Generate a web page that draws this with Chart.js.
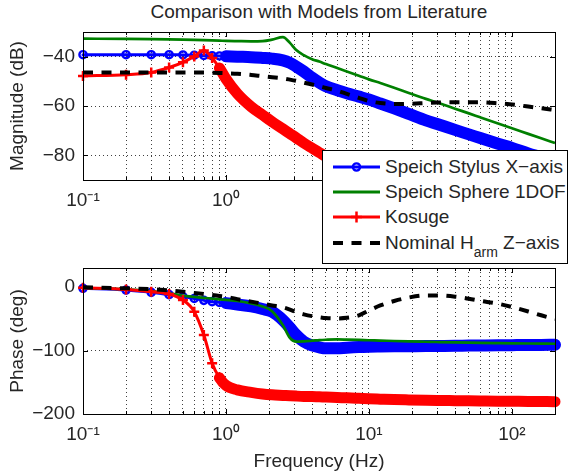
<!DOCTYPE html>
<html>
<head>
<meta charset="utf-8">
<script src="https://cdn.jsdelivr.net/npm/chart.js@4"></script>
<style>
  body { margin: 0; background: #fff; font-family: "Liberation Sans", Arial, sans-serif; color: #262626; }
  #page { position: relative; width: 568px; height: 474px; overflow: hidden; }
  .plot { position: absolute; left: 0; width: 568px; }
  #title { position: absolute; left: 83px; width: 472px; top: 0; line-height: 24px; font-size: 19px; text-align: center; white-space: nowrap; }
  #legend { position: absolute; left: 322px; top: 150px; width: 244px; height: 112px; border: 1px solid #000; background: #fff; }
  .row { position: absolute; left: 0; width: 244px; height: 24px; line-height: 24px; font-size: 19px; white-space: nowrap; }
  .row svg { position: absolute; left: 10px; top: 6px; }
  .row span { position: absolute; left: 62px; top: 0; }
  .row sub { font-size: 14px; vertical-align: -8px; line-height: 0; }
</style>
</head>
<body>
<div id="page">
  <div id="title">Comparison with Models from Literature</div>
  <div class="plot" style="top:0;height:240px"><canvas id="magChart"></canvas></div>
  <div class="plot" style="top:240px;height:234px"><canvas id="phaseChart"></canvas></div>
  <div id="legend">
    <div class="row" style="top:4px">
      <svg width="48" height="12"><line x1="0" y1="6" x2="47" y2="6" stroke="#0000ff" stroke-width="3"/><circle cx="23.5" cy="6" r="3.6" fill="none" stroke="#0000ff" stroke-width="2.4"/></svg>
      <span>Speich Stylus X&#8722;axis</span>
    </div>
    <div class="row" style="top:29px">
      <svg width="48" height="12"><line x1="0" y1="6" x2="47" y2="6" stroke="#008000" stroke-width="3"/></svg>
      <span>Speich Sphere 1DOF</span>
    </div>
    <div class="row" style="top:54px">
      <svg width="48" height="12"><line x1="0" y1="6" x2="47" y2="6" stroke="#ff0000" stroke-width="3"/><line x1="23.5" y1="0.5" x2="23.5" y2="11.5" stroke="#ff0000" stroke-width="2.5"/><line x1="18" y1="6" x2="29" y2="6" stroke="#ff0000" stroke-width="2.5"/></svg>
      <span>Kosuge</span>
    </div>
    <div class="row" style="top:80px">
      <svg width="48" height="12"><line x1="0" y1="6" x2="47" y2="6" stroke="#000" stroke-width="4" stroke-dasharray="10 8.5"/></svg>
      <span>Nominal H<sub>arm</sub> Z&#8722;axis</span>
    </div>
  </div>
</div>
<script>
// frequency grid (Hz) the curves were read at
const FREQ = [0.1, 0.2, 0.3, 0.4, 0.5, 0.6, 0.7, 0.8, 0.9, 1.0, 1.2, 1.5, 1.8, 2.1, 2.5, 2.8, 3.1, 3.5, 4, 4.5,
  5, 6, 7, 8.5, 10, 12, 15, 19, 25, 30, 40, 50, 60, 80, 100, 130, 160, 200];

// magnitude (dB)
const STYLUS_MAG = [-39.2, -39.2, -39.2, -39.2, -39.3, -39.4, -39.5, -39.6, -39.7, -39.8, -40.0, -40.2, -40.5, -40.8,
  -41.5, -42.5, -44.0, -46.0, -48.5, -50.5, -52.0, -53.6, -54.8, -56.2, -57.4, -59.0, -61.0, -63.2, -65.8, -67.3,
  -69.7, -71.5, -73.0, -75.3, -77.0, -79.2, -80.8, -82.6];
const SPHERE_MAG = [-32.7, -32.8, -32.9, -33.0, -33.1, -33.2, -33.3, -33.4, -33.5, -33.6, -33.7, -33.8, -33.7, -33.1,
  -32.1, -34.4, -37.3, -39.4, -41.0, -42.0, -43.0, -44.6, -46.0, -47.7, -49.2, -50.7, -52.6, -54.7, -57.1, -58.6,
  -61.1, -63.0, -64.6, -67.1, -69.0, -71.3, -73.1, -75.0];
const KOSUGE_MAG = [-47.8, -47.3, -46.4, -44.4, -42.3, -39.9, -37.5, -40.5, -44.6, -49.0, -55.0, -60.3, -63.6, -66.4,
  -69.3, -71.2, -72.9, -75.0, -77.1, -78.9, -80.5, -83.5, -86.0, -89.2, -92.0, null, null, null, null, null,
  null, null, null, null, null, null, null, null];
const NOMINAL_MAG = [-46.4, -46.4, -46.4, -46.4, -46.4, -46.4, -46.4, -46.5, -46.6, -46.7, -46.9, -47.4, -47.9, -48.3,
  -48.8, -49.3, -49.8, -50.5, -51.3, -52.0, -52.7, -53.8, -55.1, -56.7, -58.0, -58.8, -59.2, -59.1, -58.8, -58.6,
  -58.5, -58.5, -58.5, -58.9, -59.4, -60.2, -60.9, -61.6];

// phase (deg)
const STYLUS_PHASE = [-2.0, -4.7, -8.4, -12.0, -15.0, -18.0, -21.0, -23.0, -24.3, -25.3, -27.5, -30.5, -34.5, -39.0,
  -52.0, -64.0, -75.6, -86.0, -92.0, -95.0, -96.5, -96.5, -95.5, -94.5, -94.0, -93.7, -93.4, -93.2, -93.0, -92.8,
  -92.5, -92.2, -92.0, -91.7, -91.5, -91.3, -91.2, -91.0];
const SPHERE_PHASE = [-1.5, -3.5, -6.5, -10.0, -13.5, -15.5, -17.0, -18.2, -19.3, -20.2, -22.0, -26.0, -30.5, -38.0,
  -60.0, -80.0, -86.0, -85.5, -84.5, -83.5, -83.0, -82.5, -82.8, -83.3, -83.8, -84.3, -85.0, -85.6, -86.2, -86.6,
  -87.2, -87.6, -87.9, -88.3, -88.6, -88.9, -89.1, -89.3];
const KOSUGE_PHASE = [-1.0, -3.7, -7.3, -11.0, -20.5, -38.8, -75.6, -120.0, -143.0, -155.0, -162.0, -166.0, -168.5,
  -169.8, -170.7, -171.3, -171.8, -172.3, -172.6, -173.0, -173.3, -174.0, -174.5, -175.3, -176.0, -176.6, -177.3,
  -177.8, -178.3, -178.6, -179.0, -179.3, -179.5, -179.8, -180.0, -180.2, -180.4, -180.6];
const NOMINAL_PHASE = [-0.5, -2.0, -3.5, -5.5, -7.5, -9.5, -11.0, -12.5, -14.0, -15.3, -19.0, -23.0, -26.2, -29.0,
  -32.0, -35.5, -39.5, -43.0, -45.8, -47.5, -48.8, -49.4, -48.5, -44.5, -37.0, -29.0, -22.0, -16.5, -13.2, -13.2,
  -15.2, -18.5, -21.7, -26.3, -31.5, -38.5, -44.5, -50.5];

// axes ticks
const X_TICKS = [0.1, 0.2, 0.3, 0.4, 0.5, 0.6, 0.7, 0.8, 0.9, 1, 2, 3, 4, 5, 6, 7, 8, 9,
  10, 20, 30, 40, 50, 60, 70, 80, 90, 100, 200];
const MAG_TICKS = [-80, -60, -40];
const PHASE_TICKS = [-200, -100, 0];

const FONT_FAMILY = "'Liberation Sans', Arial, sans-serif";
const TEXT_COLOR = '#262626';
const SUP = { '-': '\u207B', '0': '\u2070', '1': '\u00B9', '2': '\u00B2', '3': '\u00B3' };

function decadeLabel(v) {
  const e = Math.log10(v);
  if (Math.abs(e - Math.round(e)) > 1e-6) return '';
  return '10' + String(Math.round(e)).split('').map(c => SUP[c]).join('');
}

function pts(ys) {
  return FREQ.map((f, i) => ({ x: f, y: ys[i] }));
}

// MATLAB-like box with inward ticks
const axesBox = {
  id: 'axesBox',
  afterDraw(chart) {
    const { ctx, chartArea: a, scales } = chart;
    ctx.save();
    ctx.strokeStyle = '#000';
    ctx.lineWidth = 1;
    ctx.beginPath();
    scales.x.ticks.forEach(t => {
      const px = Math.round(scales.x.getPixelForValue(t.value)) + 0.5;
      const len = decadeLabel(t.value) ? 5 : 3;
      ctx.moveTo(px, a.bottom); ctx.lineTo(px, a.bottom - len);
      ctx.moveTo(px, a.top); ctx.lineTo(px, a.top + len);
    });
    scales.y.ticks.forEach(t => {
      const py = Math.round(scales.y.getPixelForValue(t.value)) + 0.5;
      ctx.moveTo(a.left, py); ctx.lineTo(a.left + 5, py);
      ctx.moveTo(a.right, py); ctx.lineTo(a.right - 5, py);
    });
    ctx.stroke();
    ctx.strokeRect(Math.round(a.left) + 0.5, Math.round(a.top) + 0.5,
      Math.round(a.right - a.left), Math.round(a.bottom - a.top));
    ctx.restore();
  }
};

function datasets(stylus, sphere, kosuge, nominal) {
  return [
    {
      label: 'Speich Stylus X\u2212axis', data: pts(stylus), order: 3,
      borderColor: '#0000ff', borderWidth: 3, borderCapStyle: 'round', borderJoinStyle: 'round',
      pointStyle: 'circle', pointBorderColor: '#0000ff', pointBackgroundColor: 'rgba(0,0,0,0)',
      pointBorderWidth: 2.4,
      pointRadius: ctx => FREQ[ctx.dataIndex] <= 1.0001 ? 3.6 : 0,
      segment: { borderWidth: ctx => FREQ[ctx.p0DataIndex] >= 0.999 ? 12 : 3 }
    },
    {
      label: 'Speich Sphere 1DOF', data: pts(sphere), order: 2,
      borderColor: '#008000', borderWidth: 2.7, pointRadius: 0
    },
    {
      label: 'Kosuge', data: pts(kosuge), order: 1,
      borderColor: '#ff0000', borderWidth: 3, borderCapStyle: 'round', borderJoinStyle: 'round',
      pointStyle: 'cross', pointBorderColor: '#ff0000', pointBorderWidth: 2.5,
      pointRadius: ctx => FREQ[ctx.dataIndex] <= 1.0001 ? 5 : 0,
      segment: { borderWidth: ctx => FREQ[ctx.p0DataIndex] >= 0.899 ? 11 : 3 }
    },
    {
      label: 'Nominal H_arm Z\u2212axis', data: pts(nominal), order: 0,
      borderColor: '#000', borderWidth: 4, borderDash: [10, 8.5], pointRadius: 0
    }
  ];
}

function options(yMin, yMax, yTicks, yTitle, xTitle, padTop) {
  const font = { family: FONT_FAMILY, size: 19 };
  return {
    responsive: true,
    maintainAspectRatio: false,
    animation: false,
    layout: { padding: { top: padTop, right: 13, bottom: 0, left: 0 } },
    plugins: { legend: { display: false }, tooltip: { enabled: false } },
    datasets: { line: { cubicInterpolationMode: 'monotone', clip: { left: 6, top: 0, right: 8, bottom: 0 } } },
    scales: {
      x: {
        type: 'logarithmic', min: 0.1, max: 200,
        afterBuildTicks: s => { s.ticks = X_TICKS.map(v => ({ value: v })); },
        afterFit: s => { s.height = 60; },
        ticks: { callback: v => decadeLabel(v), autoSkip: false, maxRotation: 0, minRotation: 0, padding: 9, font, color: TEXT_COLOR },
        grid: { color: 'rgba(0,0,0,0.75)', lineWidth: 1, drawTicks: false },
        border: { display: false, dash: [1, 3] },
        title: { display: !!xTitle, text: xTitle, font, color: TEXT_COLOR, padding: { top: 0, bottom: 1 } }
      },
      y: {
        min: yMin, max: yMax,
        afterBuildTicks: s => { s.ticks = yTicks.map(v => ({ value: v })); },
        afterFit: s => { s.width = 83; },
        ticks: { callback: v => String(v).replace('-', '\u2212'), padding: 8, font, color: TEXT_COLOR },
        grid: { color: 'rgba(0,0,0,0.75)', lineWidth: 1, drawTicks: false },
        border: { display: false, dash: [1, 3] },
        title: { display: true, text: yTitle, font, color: TEXT_COLOR, padding: { top: 6, bottom: 0 } }
      }
    }
  };
}

new Chart(document.getElementById('magChart'), {
  type: 'line',
  data: { datasets: datasets(STYLUS_MAG, SPHERE_MAG, KOSUGE_MAG, NOMINAL_MAG) },
  options: options(-90, -30, MAG_TICKS, 'Magnitude (dB)', '', 32),
  plugins: [axesBox]
});

new Chart(document.getElementById('phaseChart'), {
  type: 'line',
  data: { datasets: datasets(STYLUS_PHASE, SPHERE_PHASE, KOSUGE_PHASE, NOMINAL_PHASE) },
  options: options(-200, 30, PHASE_TICKS, 'Phase (deg)', 'Frequency (Hz)', 28),
  plugins: [axesBox]
});
</script>
</body>
</html>
